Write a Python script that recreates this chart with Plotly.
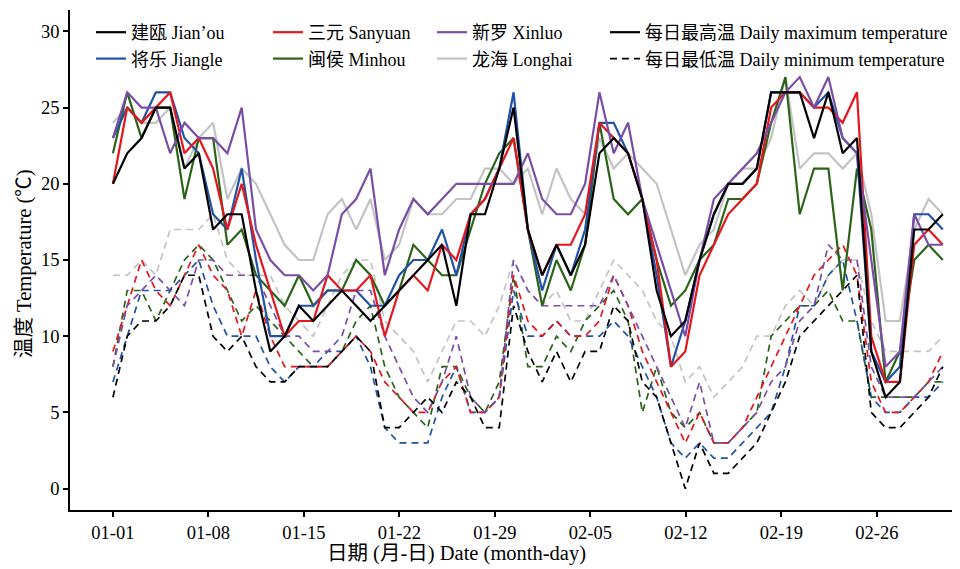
import plotly.graph_objects as go

# ---------------- data ----------------
days = list(range(59))
tick_pos = [0, 6.674, 13.348, 20.022, 26.696, 33.37, 40.044, 46.718, 53.392]
tick_text = ["01-01", "01-08", "01-15", "01-22", "01-29", "02-05", "02-12", "02-19", "02-26"]

jianou_max = [20, 22, 23, 25, 25, 21, 22, 17, 18, 18, 13, 9, 10, 12, 11, 12, 13, 12, 11, 12,
              13, 14, 15, 16, 12, 18, 18, 21, 25, 17, 14, 16, 14, 16, 22, 23, 22, 19, 13, 10,
              11, 15, 18, 20, 20, 21, 26, 26, 26, 23, 26, 22, 23, 9, 6, 7, 17, 17, 18]
jianou_min = [6, 10, 11, 11, 12, 14, 14, 10, 9, 10, 8, 7, 7, 8, 8, 8, 9, 10, 9, 4,
              4, 5, 6, 5, 7, 6, 4, 4, 12, 9, 7, 9, 7, 9, 9, 12, 11, 7, 6, 3,
              0, 3, 1, 1, 2, 3, 5, 7, 10, 11, 12, 13, 14, 5, 4, 4, 5, 6, 8]

jiangle_max = [23, 25, 24, 26, 26, 23, 22, 18, 17, 21, 15, 10, 10, 12, 12, 13, 13, 13, 12, 12,
               14, 15, 15, 17, 14, 18, 19, 21, 26, 17, 13, 16, 14, 17, 24, 24, 22, 19, 14, 8,
               11, 15, 18, 20, 20, 21, 26, 26, 26, 25, 26, 23, 22, 9, 7, 8, 18, 18, 17]
jiangle_min = [7, 10, 13, 13, 13, 14, 15, 12, 10, 10, 10, 8, 7, 8, 8, 9, 9, 10, 8, 4,
               3, 3, 3, 6, 8, 5, 5, 6, 13, 10, 10, 11, 10, 10, 10, 11, 10, 8, 6, 3,
               2, 3, 2, 2, 3, 4, 5, 8, 12, 12, 14, 15, 11, 6, 5, 5, 6, 6, 7]

sanyuan_max = [20, 25, 24, 25, 26, 22, 23, 21, 17, 20, 16, 13, 10, 11, 11, 14, 13, 13, 14, 10,
               13, 14, 13, 16, 15, 18, 19, 21, 23, 17, 14, 16, 16, 18, 24, 23, 22, 19, 15, 8,
               9, 14, 16, 18, 19, 20, 25, 26, 26, 25, 25, 24, 26, 10, 7, 7, 16, 17, 16]
sanyuan_min = [9, 12, 15, 13, 12, 14, 16, 14, 13, 10, 13, 10, 8, 8, 8, 8, 9, 10, 9, 7,
               6, 5, 5, 7, 8, 5, 5, 6, 14, 11, 10, 11, 10, 10, 11, 14, 12, 9, 7, 5,
               3, 5, 3, 3, 4, 6, 8, 10, 12, 14, 15, 16, 14, 7, 5, 5, 6, 7, 9]

minhou_max = [22, 26, 23, 25, 25, 19, 23, 23, 16, 17, 14, 13, 12, 14, 12, 13, 13, 15, 14, 12,
              13, 16, 15, 14, 14, 17, 20, 22, 23, 17, 12, 15, 13, 16, 24, 19, 18, 19, 15, 12,
              13, 15, 16, 19, 19, 20, 24, 27, 18, 21, 21, 13, 21, 17, 7, 9, 15, 16, 15]
minhou_min = [8, 13, 13, 11, 13, 15, 16, 15, 13, 11, 12, 11, 10, 9, 8, 8, 9, 11, 12, 8,
              6, 5, 4, 8, 8, 6, 5, 7, 14, 8, 8, 10, 9, 11, 12, 13, 11, 5, 8, 5,
              4, 5, 3, 3, 4, 5, 10, 11, 12, 12, 13, 11, 11, 6, 6, 6, 6, 7, 7]

xinluo_max = [23, 26, 25, 25, 22, 24, 23, 23, 22, 25, 17, 15, 14, 14, 13, 14, 18, 19, 21, 14,
              17, 19, 18, 19, 20, 20, 20, 20, 20, 22, 19, 18, 18, 20, 26, 22, 24, 19, 16, 13,
              10, 15, 19, 20, 21, 22, 24, 26, 27, 25, 27, 23, 22, 15, 8, 9, 18, 16, 16]
xinluo_min = [8, 12, 13, 14, 13, 12, 15, 15, 14, 14, 14, 12, 10, 10, 9, 9, 10, 13, 13, 10,
              8, 6, 5, 7, 10, 6, 5, 6, 15, 13, 12, 12, 12, 12, 12, 14, 12, 10, 8, 6,
              4, 7, 3, 3, 4, 5, 7, 8, 11, 12, 16, 15, 15, 8, 6, 6, 6, 7, 8]

longhai_max = [24, 25, 24, 24, 25, 21, 23, 24, 19, 21, 20, 18, 16, 15, 15, 18, 19, 17, 19, 15,
               16, 19, 18, 18, 19, 19, 21, 21, 20, 21, 18, 21, 19, 18, 23, 21, 22, 21, 20, 17,
               14, 16, 17, 20, 21, 21, 23, 27, 21, 22, 22, 21, 22, 18, 11, 11, 17, 19, 18]
longhai_min = [14, 14, 15, 14, 17, 17, 17, 18, 15, 14, 14, 14, 12, 11, 10, 12, 14, 15, 15, 11,
               10, 9, 7, 9, 11, 11, 10, 12, 15, 13, 12, 13, 11, 11, 13, 15, 14, 13, 11, 10,
               7, 8, 6, 7, 8, 10, 10, 12, 13, 12, 14, 15, 15, 11, 9, 9, 9, 9, 10]

station_names = ["建瓯 Jian\u2019ou", "将乐 Jiangle", "三元 Sanyuan", "闽侯 Minhou", "新罗 Xinluo", "龙海 Longhai"]
station_max = [jianou_max, jiangle_max, sanyuan_max, minhou_max, xinluo_max, longhai_max]
station_min = [jianou_min, jiangle_min, sanyuan_min, minhou_min, xinluo_min, longhai_min]
station_colors = ["#000000", "#2152a6", "#e3171d", "#2b6419", "#7a4ea6", "#c3c3c3"]
station_legend = ["legend", "legend", "legend2", "legend2", "legend3", "legend3"]

FONT = "Liberation Serif, Noto Sans CJK SC, serif"
FS = 18.5
FS_LEG = 18
FS_TITLE = 20.5
DASH = "7px,5px"

fig = go.Figure()

order = [5, 3, 1, 2, 4, 0]
for i in order:
    fig.add_trace(go.Scatter(
        x=days, y=station_min[i], mode="lines", showlegend=False,
        line=dict(color=station_colors[i], width=1.7, dash=DASH)))
for i in order:
    fig.add_trace(go.Scatter(
        x=days, y=station_max[i], mode="lines", name=station_names[i],
        legend=station_legend[i], legendrank=i,
        line=dict(color=station_colors[i], width=2.2)))

fig.add_trace(go.Scatter(x=[None], y=[None], mode="lines", name="每日最高温 Daily maximum temperature",
                         legend="legend4", legendrank=1, line=dict(color="black", width=2.2)))
fig.add_trace(go.Scatter(x=[None], y=[None], mode="lines", name="每日最低温 Daily minimum temperature",
                         legend="legend4", legendrank=2, line=dict(color="black", width=1.7, dash=DASH)))

# page has an 8px body offset: plot area in page pixels is x 70..960, y 10..510
W, H = 960, 569
OFF = 8
PL, PR, PT, PB = 70, 960, 10, 510
pw, ph = PR - PL, PB - PT


def px_x(p):
    return (p - PL) / pw


def px_y(p):
    return 1 - (p - PT) / ph


leg_common = dict(orientation="v", yanchor="top", xanchor="left", bgcolor="rgba(0,0,0,0)",
                  font=dict(family=FONT, size=FS_LEG, color="black"), tracegroupgap=0,
                  itemwidth=30, traceorder="normal")
fig.update_layout(
    width=W, height=H,
    margin=dict(l=PL - OFF, r=W - (PR - OFF), t=PT - OFF, b=H - (PB - OFF)),
    paper_bgcolor="white", plot_bgcolor="white",
    font=dict(family=FONT, size=FS, color="black"),
    legend=dict(x=px_x(91), y=px_y(14), **leg_common),
    legend2=dict(x=px_x(268), y=px_y(14), **leg_common),
    legend3=dict(x=px_x(432), y=px_y(14), **leg_common),
    legend4=dict(x=px_x(605), y=px_y(14), **leg_common),
    xaxis=dict(range=[-3.0, 59.2], tickvals=tick_pos, ticktext=tick_text,
               showline=True, linecolor="black", linewidth=1.5, ticks="outside",
               ticklen=5, tickwidth=1.5, tickcolor="black", showgrid=False, zeroline=False,
               automargin=False, tickfont=dict(family=FONT, size=FS, color="black")),
    yaxis=dict(range=[-1.4, 31.4], tickvals=[0, 5, 10, 15, 20, 25, 30],
               showline=True, linecolor="black", linewidth=1.5, ticks="outside",
               ticklen=5, tickwidth=1.5, tickcolor="black", showgrid=False, zeroline=False,
               automargin=False, tickfont=dict(family=FONT, size=FS, color="black")),
    annotations=[
        dict(text="温度 Temperature (℃)", xref="paper", yref="paper", x=px_x(24), y=px_y(264),
             textangle=-90, showarrow=False, xanchor="center", yanchor="middle",
             font=dict(family=FONT, size=FS_TITLE, color="black")),
        dict(text="日期 (月-日) Date (month-day)", xref="paper", yref="paper", x=px_x(456), y=px_y(553),
             showarrow=False, xanchor="center", yanchor="middle",
             font=dict(family=FONT, size=FS_TITLE, color="black")),
    ],
)

fig.write_html("out.html")
